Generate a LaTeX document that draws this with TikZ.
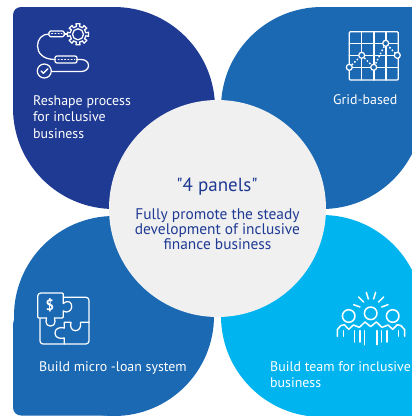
\documentclass[tikz,border=0pt]{standalone}
\usepackage{fontspec}
\setmainfont{PT Sans}
\newfontfamily\hubfont{PT Sans}
\definecolor{navypanel}{HTML}{1F3A93}
\definecolor{bluepanel}{HTML}{1B68B3}
\definecolor{cyanpanel}{HTML}{00B5EF}
\definecolor{hubgray}{HTML}{F0F0F1}
\tikzset{
  paneltext/.style={anchor=north west,inner sep=0pt,align=left,text=white,font=\fontsize{13.9}{16.7}\selectfont},
  icon/.style={draw=white,line width=1.25pt,line cap=round,line join=round}
}

\begin{document}
\begin{tikzpicture}[x=1pt,y=-1pt]
\clip (0,0) rectangle (412,416);
\fill[white] (0,0) rectangle (412,416);

% panels
\fill[navypanel] (114,108) circle (101); \fill[navypanel,rounded corners=8pt] (13,7) rectangle (114,108);
\fill[bluepanel] (322,108) circle (101); \fill[bluepanel] (322,7) rectangle (420,108);
\fill[bluepanel] (114,316) circle (100); \fill[bluepanel,rounded corners=8pt] (13,316) rectangle (114,415.5);
\fill[cyanpanel] (322,316) circle (101); \fill[cyanpanel] (322,316) rectangle (420,420);
\fill[hubgray] (217.5,208.5) circle (108.5);

% process icon
\draw[icon] (78,34.3) circle (5.5);
\foreach \a in {0,45,...,315} {
  \draw[icon] ([shift={(\a-11:8)}]78,34.3) -- ([shift={(\a-11:10.7)}]78,34.3) -- ([shift={(\a+11:10.7)}]78,34.3) -- ([shift={(\a+11:8)}]78,34.3);
  \draw[icon] ([shift={(\a+11:8)}]78,34.3) -- ([shift={(\a+34:8)}]78,34.3);
}
\draw[icon,rounded corners=1.5pt] (49,31) rectangle (64.3,36.7);
\draw[icon,rounded corners=2pt] (55,56) rectangle (77,63);
\draw[icon,dotted,line width=0.9pt] (51.5,33.9) -- (62,33.9);
\draw[icon,dotted,line width=0.9pt] (58,59.5) -- (75,59.5);
\draw[icon] (64.3,34) -- (67.4,34);
\draw[icon] (49,34) .. controls (42,34) and (37.5,39) .. (37.5,46) .. controls (37.5,53) and (43,59.5) .. (55,59.5);
\draw[icon] (77,59.5) -- (81,59.5) .. controls (85.5,59.5) and (88.5,62) .. (88.5,65.5) .. controls (88.5,69) and (85.5,71.5) .. (81,71.5) -- (51.5,71.5);
\draw[icon] (44.3,71) circle (7);
\draw[icon,line width=1.4pt] (41,71) -- (43.4,73.3) -- (47.8,68.8);

% grid icon
\draw[icon,rounded corners=1pt] (349.3,31.7) rectangle (398.3,80);
\foreach \gx in {361.7,374,386} \draw[icon] (\gx,31.7) -- (\gx,80);
\foreach \gy in {43.3,55.3,67.3} \draw[icon] (349.3,\gy) -- (398.3,\gy);
\draw[white,line width=1.5pt,dotted] (349.3,67.3) -- (361.7,55.3) -- (373.7,67.3) -- (385.7,43.3) -- (397.3,55.3);
\foreach \px/\py in {349.3/67.3,361.7/55.3,373.7/67.3,385.7/43.3,397.3/55.3}
  \draw[icon,fill=bluepanel] (\px,\py) circle (3);

% puzzle icon
\draw[icon,rounded corners=1pt] (63.3,297.3) -- (87,297.3) -- (89,299.3) -- (89,342) -- (87,344) -- (42,344) -- (40,342) -- (40,318.5);
\draw[icon,rounded corners=1pt] (63.3,311) -- (63.3,318) -- (54.5,318);
\draw[icon] (63.3,303.5) .. controls (69,299) and (72,303) .. (71.7,307) .. controls (71.5,311) and (67,313.5) .. (63.3,311);
\draw[icon,rounded corners=1pt] (63.3,303.5) -- (63.3,293) -- (39.7,293) -- (37.7,295) -- (37.7,318) -- (46.5,318);
\draw[icon] (46.5,318) .. controls (45,323) and (47,326) .. (50.5,326) .. controls (54,326) and (56,323) .. (54.5,318);
\draw[icon] (89,322.3) -- (80.5,322.3) .. controls (81.5,327) and (79,330.7) .. (75.5,330.7) .. controls (72,330.7) and (69.5,327) .. (71,322.3) -- (64.3,322.3) -- (64.3,328);
\draw[icon] (64.3,328) .. controls (59,326.5) and (55,329) .. (55,333) .. controls (55,337) and (59,339.5) .. (64.3,338) -- (64.3,344);
\node[inner sep=0pt,text=white,font=\fontsize{15}{15}\bfseries\selectfont] (dollar) at (50,305.5) {\$};

% team icon
\foreach \hx/\hy in {348.7/316,370.7/313.3,392.7/316} \draw[icon,line width=1.5pt] (\hx,\hy) circle (6.3);
\begin{scope}[shift={(206,208)},scale=1/3]
\draw[icon,line width=1.5pt] (394,385) -- (394,365) -- (404,353) -- (415,350) -- (428,364) -- (442,351) -- (460,358) -- (477,342) -- (494,356) -- (511,342) -- (528,358) -- (546,351) -- (560,364) -- (574,350) -- (585,353) -- (596,365) -- (596,385);
\foreach \bx/\by in {412/385,445/402,462/402,476/410,513/410,527/402,543/402,578/385}
  \draw[icon,line width=1.5pt] (\bx,368) -- (\bx,\by);
\draw[icon,line width=1.5pt] (443,290) -- (462,297);
\draw[icon,line width=1.5pt] (458,267) -- (473,282);
\draw[icon,line width=1.5pt] (481,253) -- (487,273);
\draw[icon,line width=1.5pt] (509,253) -- (503,273);
\draw[icon,line width=1.5pt] (533,267) -- (518,282);
\draw[icon,line width=1.5pt] (546,290) -- (527,297);
\end{scope}

% labels
\node[paneltext] (reshape) at (33,95) {Reshape process\\for inclusive\\business};
\node[paneltext] (grid) at (333,94) {Grid-based};
\node[paneltext] (microloan) at (39,361) {Build micro -loan system};
\node[paneltext] (teamlabel) at (270,361) {Build team for inclusive\\business};

\node[text=navypanel,inner sep=0pt,font=\hubfont\fontsize{19}{19}\selectfont] (title) at (217,186.5) {"4 panels"};
\node[text=navypanel,inner sep=0pt,align=center,anchor=north,font=\fontsize{15.4}{15}\selectfont] (subtitle) at (217.5,209) {Fully promote the steady\\development of inclusive\\finance business};
\end{tikzpicture}
\end{document}
